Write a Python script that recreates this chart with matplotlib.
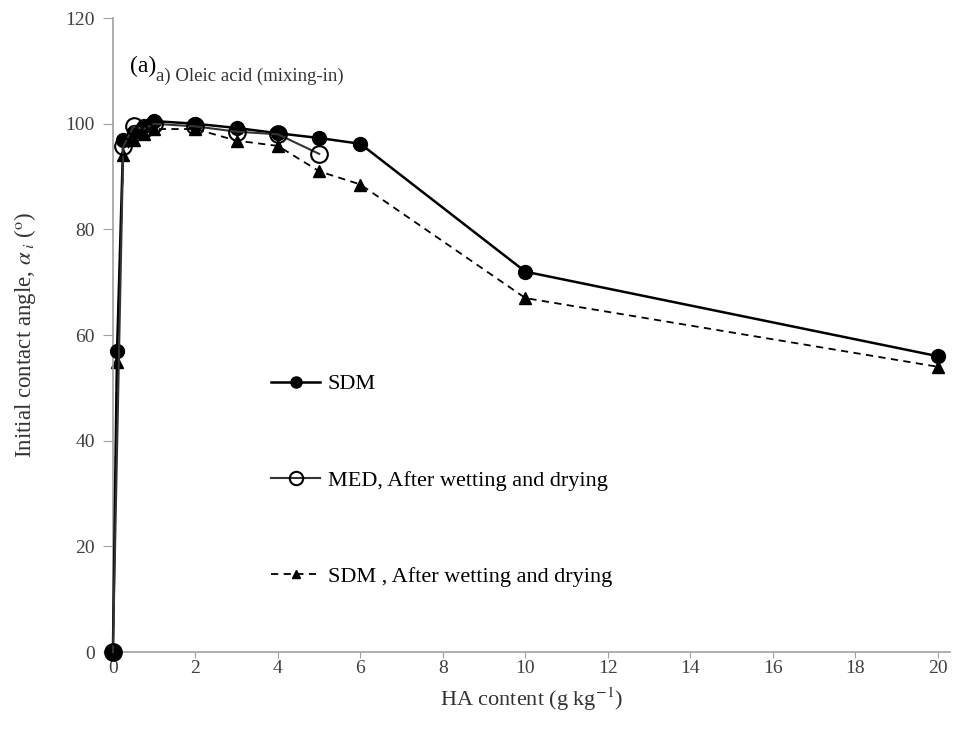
import numpy as np
import matplotlib.pyplot as plt

plt.rcParams['font.family'] = ['Liberation Serif', 'DejaVu Serif']
plt.rcParams['mathtext.fontset'] = 'stix'

# data
x_sdm = [0, 0.1, 0.25, 0.5, 0.75, 1, 2, 3, 4, 5, 6, 10, 20]
y_sdm = [0, 57, 97, 98.5, 99.5, 100.5, 100, 99.2, 98.2, 97.3, 96.2, 72, 56]

x_med = [0, 0.25, 0.5, 0.75, 1, 2, 3, 4, 5]
y_med = [0, 95.7, 99.5, 99, 100, 99.5, 98.5, 98, 94.3]

x_wd = [0, 0.1, 0.25, 0.5, 0.75, 1, 2, 3, 4, 5, 6, 10, 20]
y_wd = [0, 55, 94, 97, 98, 99, 99, 96.8, 95.8, 91, 88.5, 67, 54]

fig = plt.figure(figsize=(9.57, 7.53), dpi=100)
ax = fig.add_axes([0.118, 0.134, 0.875, 0.842])

ax.plot(x_sdm, y_sdm, '-', color='black', lw=1.8, marker='o', ms=10,
        mfc='black', mec='black', label='SDM', zorder=3, clip_on=False)
ax.plot(x_med, y_med, '-', color='#333333', lw=1.5, marker='o', ms=12,
        mfc='none', mec='black', mew=1.5, label='MED, After wetting and drying',
        zorder=4, clip_on=False)
ax.plot(x_wd, y_wd, '--', color='black', lw=1.3, dashes=(4, 3), marker='^', ms=8,
        mfc='black', mec='black', label='SDM , After wetting and drying',
        zorder=2, clip_on=False)

ax.set_xlim(0, 20.3)
ax.set_ylim(0, 120)
ax.set_xticks(np.arange(0, 21, 2))
ax.set_yticks(np.arange(0, 121, 20))
ax.spines['top'].set_visible(False)
ax.spines['right'].set_visible(False)
for s in ['left', 'bottom']:
    ax.spines[s].set_color('#a0a0a0')
    ax.spines[s].set_linewidth(1.2)
ax.tick_params(axis='y', colors='#a0a0a0', labelcolor='#404040', labelsize=14,
               length=7, pad=6)
ax.tick_params(axis='x', colors='#a0a0a0', labelcolor='#404040', labelsize=14,
               length=4, pad=2)

ax.set_xlabel('HA content (g kg$^{-1}$)', fontsize=16, color='#333333', labelpad=6)
ax.set_ylabel(r'Initial contact angle, $\alpha_{\ i}$ ($^{\rm o}$)', fontsize=16.5,
              color='#333333', labelpad=20)

fig.text(0.136, 0.905, '(a)', fontsize=17)
fig.text(0.163, 0.893, 'a) Oleic acid (mixing-in)', fontsize=13.5, color='#333333')

ax.legend(loc='center left', bbox_to_anchor=(0.165, 0.271), frameon=False,
          fontsize=16, labelspacing=3.4, handlelength=2.2, handletextpad=0.35,
          markerscale=0.8)

fig.savefig('out.png', dpi=100)
